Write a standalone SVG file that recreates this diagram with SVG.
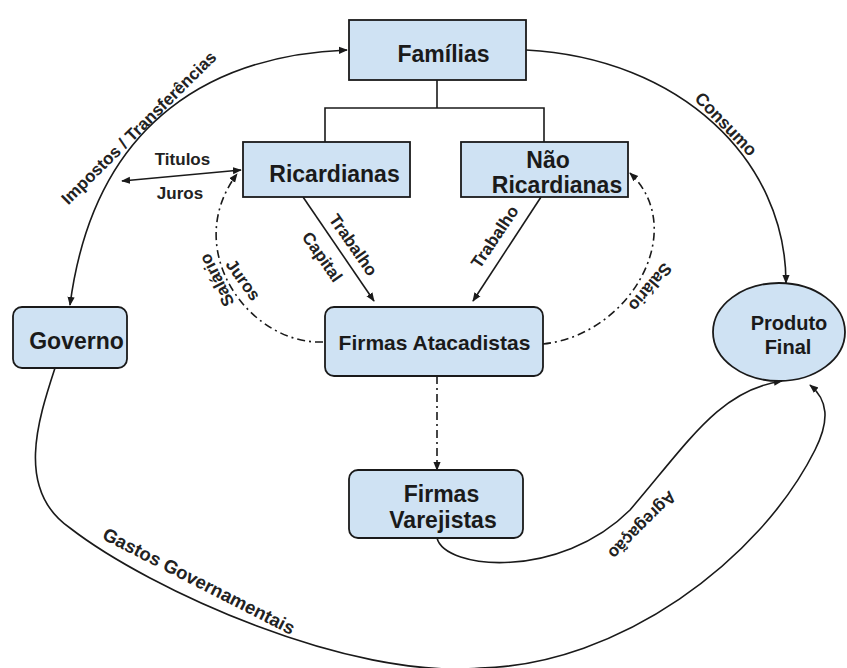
<svg xmlns="http://www.w3.org/2000/svg" width="847" height="668" viewBox="0 0 847 668">
<style>
.box{fill:#cfe2f3;stroke:#1a1a1a;stroke-width:1.8}
.nt{font-family:"Liberation Sans",Arial,sans-serif;font-weight:bold;font-size:23px;fill:#1a1a1a;text-anchor:middle}
.lb{font-family:"Liberation Sans",Arial,sans-serif;font-weight:bold;font-size:17px;fill:#222;text-anchor:middle;dominant-baseline:central}
.c{fill:none;stroke:#1a1a1a;stroke-width:1.6}
.dd{stroke-dasharray:8,4,2,4}
</style>
<defs>
<marker id="ah" viewBox="0 0 10 10" refX="9" refY="5" markerWidth="9" markerHeight="9" markerUnits="userSpaceOnUse" orient="auto-start-reverse">
<path d="M0,1 L10,5 L0,9 z" fill="#1a1a1a"/>
</marker>
</defs>
<rect width="847" height="668" fill="#fff"/>

<g id="connectors">
<path class="c" d="M437 80 V108 M325 142 V108 H544 V142"/>
<path class="c" d="M347 50 C220 55,95 115,70 305" marker-start="url(#ah)" marker-end="url(#ah)"/>
<path class="c" d="M526 50 C680 58,786 160,786 283" marker-end="url(#ah)"/>
<path class="c" d="M122 181 L241 170" marker-start="url(#ah)" marker-end="url(#ah)"/>
<path class="c" d="M303 197 L374 301" marker-end="url(#ah)"/>
<path class="c" d="M541 197 L473 301" marker-end="url(#ah)"/>
<path class="c dd" d="M323 342 C250 345,180 250,237 174" marker-end="url(#ah)"/>
<path class="c dd" d="M543 344 C630 335,690 230,630 173" marker-end="url(#ah)"/>
<path class="c dd" d="M437 376 L437 470" marker-end="url(#ah)"/>
<path class="c" d="M437 538 C445 570,560 580,630 510 C690 440,720 390,782 381" marker-end="url(#ah)"/>
<path class="c" d="M55 368 C38 420,15 490,70 528 C150 590,350 680,480 668 C620 665,760 560,815 450 C830 420,828 400,810 385" marker-end="url(#ah)"/>

<text class="lb" transform="translate(139,128) rotate(-44.6)">Impostos / Transferências</text>
<text class="lb" style="font-size:17.5px" transform="translate(726,124) rotate(46)">Consumo</text>
<text class="lb" x="182.5" y="159">Titulos</text>
<text class="lb" x="180" y="193">Juros</text>
<text class="lb" transform="translate(353,245) rotate(55)">Trabalho</text>
<text class="lb" transform="translate(322,257) rotate(55)">Capital</text>
<text class="lb" transform="translate(495,237) rotate(-56)">Trabalho</text>
<text class="lb" transform="translate(243,280) rotate(54)">Juros</text>
<text class="lb" transform="translate(217,280) rotate(-117)">Salário</text>
<text class="lb" transform="translate(650,287) rotate(130)">Salário</text>
<text class="lb" transform="translate(642,525) rotate(135)">Agregação</text>
<text class="lb" style="font-size:18.5px" transform="translate(199,581) rotate(27)">Gastos Governamentais</text>
</g>

<g id="familias">
<rect class="box" x="349" y="20" width="177" height="60"/>
<text class="nt" x="443.5" y="62">Famílias</text>
</g>
<g id="ricardianas">
<rect class="box" x="243" y="142" width="167" height="55"/>
<text class="nt" x="334.5" y="182">Ricardianas</text>
</g>
<g id="nao-ricardianas">
<rect class="box" x="461" y="142" width="167" height="55"/>
<text class="nt" x="548" y="168">Não</text>
<text class="nt" x="557" y="193">Ricardianas</text>
</g>
<g id="governo">
<rect class="box" x="13" y="307" width="114" height="61" rx="9"/>
<text class="nt" x="76.5" y="349">Governo</text>
</g>
<g id="firmas-atacadistas">
<rect class="box" x="325" y="307" width="218" height="69" rx="9"/>
<text class="nt" x="434.5" y="350" style="font-size:21px">Firmas Atacadistas</text>
</g>
<g id="firmas-varejistas">
<rect class="box" x="349" y="470" width="174" height="68" rx="9"/>
<text class="nt" x="441.5" y="502">Firmas</text>
<text class="nt" x="443" y="528">Varejistas</text>
</g>
<g id="produto-final">
<ellipse class="box" cx="779" cy="332" rx="66" ry="49"/>
<text class="nt" x="789" y="330" style="font-size:20px">Produto</text>
<text class="nt" x="788" y="354" style="font-size:20px">Final</text>
</g>
</svg>
